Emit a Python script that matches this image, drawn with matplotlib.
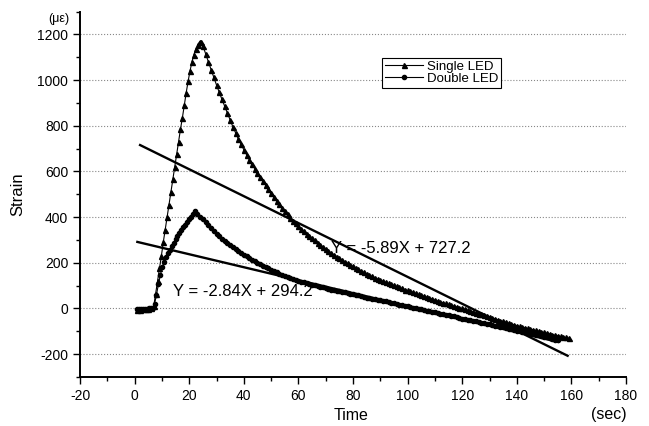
import matplotlib
matplotlib.use("Agg")
import matplotlib.pyplot as plt
import numpy as np
from matplotlib.ticker import MultipleLocator

plt.rcParams['font.family'] = ['Liberation Sans', 'DejaVu Sans']
plt.rcParams['axes.unicode_minus'] = False

# Single LED (triangles): flat start and steep rise, sampled ~0.7 s
single_rise_t = [1, 2, 3, 4, 5, 6, 7.0, 7.7, 8.4, 9.1, 9.8, 10.5, 11.2, 11.9, 12.6,
                 13.3, 14.0, 14.7, 15.4, 16.1, 16.8, 17.5, 18.2, 18.9, 19.6, 20.3,
                 21.0, 21.7, 22.4, 23.1, 23.8, 24.4]
single_rise_y = [-5, -5, -3, -3, -2, 0, 10, 65, 120, 175, 230, 290, 345, 400, 455,
                 510, 565, 620, 675, 730, 785, 835, 890, 945, 995, 1040,
                 1080, 1110, 1135, 1155, 1168, 1168]
# decay, one value per second from t = 25 s
single_decay_y = [
    1150, 1115, 1080, 1046, 1012, 978, 946, 915, 885, 855,       # 25-34
    825, 795, 768, 742, 718, 695, 673, 652, 632, 612,            # 35-44
    593, 575, 557, 540, 522, 505, 488, 472, 456, 441,            # 45-54
    426, 412, 398, 385, 372, 360, 349, 338, 327, 317,            # 55-64
    307, 298, 288, 278, 269, 260, 251, 243, 235, 227,            # 65-74
    219, 212, 205, 198, 191, 184, 177, 171, 164, 158,            # 75-84
    152, 146, 140, 135, 129, 124, 119, 115, 110, 106,            # 85-94
    101, 97, 92, 88, 83, 79, 75, 71, 66, 62,                     # 95-104
    58, 54, 50, 46, 41, 37, 33, 29, 25, 22,                      # 105-114
    18, 14, 10, 7, 3, 0, -4, -8, -11, -15,                       # 115-124
    -19, -23, -26, -30, -34, -38, -41, -45, -49, -53,            # 125-134
    -56, -60, -64, -68, -71, -75, -78, -81, -84, -87,            # 135-144
    -90, -93, -96, -99, -102, -105, -108, -111, -114, -117,      # 145-154
    -119, -122, -124, -127, -130]                                # 155-159

# Double LED (circles)
double_rise_t = [1, 1.7, 2.4, 3.1, 3.8, 4.5, 5.2, 5.9, 6.6, 7.3, 8.0, 8.7, 9.4, 10.1,
                 10.8, 11.5, 12.2, 12.9, 13.6, 14.3, 15.0, 15.7, 16.4, 17.1, 17.8,
                 18.5, 19.2, 19.9, 20.6, 21.3, 22.0]
double_rise_y = [-3, -3, -2, -2, -2, -1, 0, 0, 2, 20, 60, 105, 145, 180,
                 205, 225, 242, 258, 272, 287, 302, 316, 330, 343, 355,
                 367, 378, 390, 402, 414, 425]
# decay, one value per second from t = 23 s
double_decay_y = [
    414, 402, 390, 378, 365, 352, 340, 328, 317, 306,            # 23-32
    296, 286, 277, 268, 260, 252, 244, 236, 228, 221,            # 33-42
    214, 207, 200, 194, 187, 181, 175, 169, 163, 158,            # 43-52
    153, 148, 143, 138, 133, 129, 125, 121, 117, 114,            # 53-62
    110, 107, 104, 101, 98, 95, 92, 89, 86, 83,                  # 63-72
    80, 78, 75, 73, 70, 67, 64, 62, 59, 57,                      # 73-82
    54, 51, 48, 46, 43, 41, 38, 36, 33, 31,                      # 83-92
    28, 26, 23, 20, 17, 15, 12, 10, 7, 4,                        # 93-102
    1, -1, -4, -6, -9, -12, -14, -17, -20, -22,                  # 103-112
    -25, -28, -30, -33, -35, -38, -41, -44, -46, -49,            # 113-122
    -51, -54, -57, -60, -62, -65, -67, -70, -73, -76,            # 123-132
    -78, -81, -83, -86, -89, -92, -94, -97, -99, -102,           # 133-142
    -105, -108, -110, -113, -115, -118, -121, -124, -127, -130,  # 143-152
    -133, -136, -140]                                            # 153-155

single_t = single_rise_t + list(np.arange(25, 25 + len(single_decay_y)))
single_y = single_rise_y + single_decay_y
double_t = double_rise_t + list(np.arange(23, 23 + len(double_decay_y)))
double_y = double_rise_y + double_decay_y

# linear fits shown on the chart
fit_single = (-5.89, 727.2)
fit_single_x = [2, 158.6]
fit_double = (-2.84, 294.2)
fit_double_x = [1, 155]

fig = plt.figure(figsize=(6.49, 4.26), dpi=100)
ax = fig.add_axes([0.1233, 0.115, 0.8413, 0.858])

ax.plot(single_t, single_y, color='black', lw=0.8, marker='^', ms=3.6,
        label='Single LED')
ax.plot(double_t, double_y, color='black', lw=0.8, marker='o', ms=3.0,
        label='Double LED')

for (m, b), xs in [(fit_single, fit_single_x), (fit_double, fit_double_x)]:
    xs = np.array(xs)
    ax.plot(xs, m * xs + b, color='black', lw=1.7)

ax.text(71.8, 244, 'Y = -5.89X + 727.2', fontsize=12, va='baseline')
ax.text(14.2, 54, 'Y = -2.84X + 294.2', fontsize=12, va='baseline')

ax.set_xlim(-20, 180)
ax.set_ylim(-300, 1300)
ax.xaxis.set_major_locator(MultipleLocator(20))
ax.xaxis.set_minor_locator(MultipleLocator(10))
ax.yaxis.set_minor_locator(MultipleLocator(100))
ax.set_yticks([-200, 0, 200, 400, 600, 800, 1000, 1200])
ax.tick_params(which='major', direction='out', length=5, width=1, labelsize=10)
ax.tick_params(which='minor', direction='out', length=3, width=1)

ax.spines['top'].set_visible(False)
ax.spines['right'].set_visible(False)
ax.spines['left'].set_linewidth(1.4)
ax.spines['bottom'].set_linewidth(1.4)

ax.yaxis.grid(True, linestyle=':', color='#888888', lw=0.8)

ax.set_ylabel('Strain', fontsize=12)
ax.yaxis.set_label_coords(-0.1, 0.5)
ax.set_xlabel('Time', fontsize=11.5)
ax.xaxis.set_label_coords(0.497, -0.085)
fig.text(0.9376, 0.026, '(sec)', fontsize=11.5, ha='center', va='center')
fig.text(0.09, 0.948, '(με)', fontsize=9, ha='center')

leg = ax.legend(loc='upper left', bbox_to_anchor=(0.553, 0.873), borderaxespad=0,
                fontsize=9.5, frameon=True, fancybox=False, handlelength=2.9,
                handletextpad=0.3, labelspacing=0.0, borderpad=0.2,
                edgecolor='black', framealpha=1)
leg.get_frame().set_linewidth(0.8)

fig.savefig('out.png', dpi=100)
